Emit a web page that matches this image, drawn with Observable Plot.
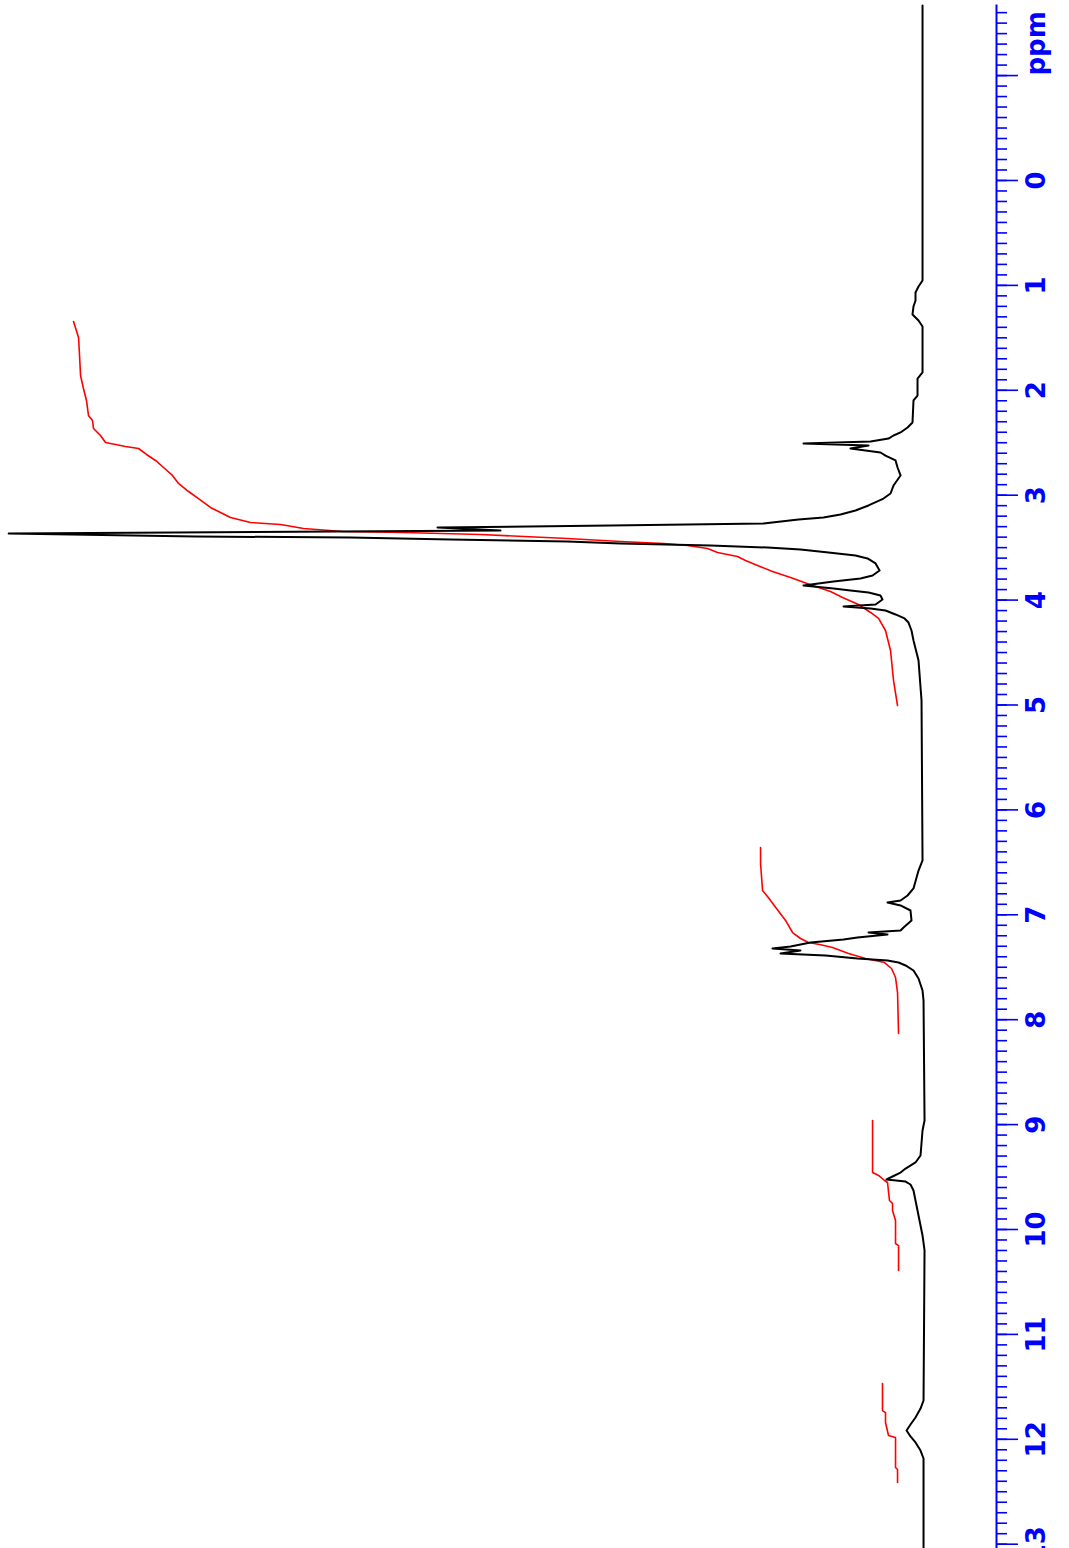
<!DOCTYPE html>
<html>
<head>
<meta charset="utf-8">
<script src="https://cdn.jsdelivr.net/npm/d3@7"></script>
<script src="https://cdn.jsdelivr.net/npm/@observablehq/plot@0.6"></script>
<style>
  html, body { margin: 0; padding: 0; background: #fff; overflow: hidden; }
</style>
</head>
<body>
<div id="chart"></div>
<script>
// 1H NMR spectrum, drawn sideways: chemical shift (ppm) runs down the right-hand axis,
// signal intensity grows to the left.

// Spectrum trace: [ppm, intensity]
const spectrum = [
  [-1.668, 0], [0.953, 0], [1.011, 0.44], [1.068, 0.77], [1.144, 0.77], [1.201, 0.99],
  [1.277, 1.10], [1.335, 0.44], [1.392, 0], [1.830, 0], [1.888, 0.55], [2.050, 0.55],
  [2.097, 0.99], [2.307, 1.10], [2.355, 1.64], [2.402, 2.41], [2.431, 3.18], [2.460, 3.73],
  [2.488, 5.70], [2.507, 13.05], [2.526, 5.92], [2.555, 7.90], [2.593, 4.61], [2.622, 4.06],
  [2.669, 2.96], [2.736, 2.74], [2.812, 2.41], [2.908, 3.18], [2.984, 3.51], [3.032, 4.28],
  [3.098, 5.92], [3.146, 7.35], [3.184, 8.99], [3.213, 10.86], [3.232, 13.60], [3.270, 17.43],
  [3.289, 34.21], [3.308, 53.18], [3.337, 46.27], [3.365, 100.2], [3.394, 79.72], [3.403, 62.72],
  [3.422, 51.75], [3.441, 38.93], [3.460, 33.11], [3.480, 23.25], [3.499, 17.00], [3.518, 13.38],
  [3.546, 10.31], [3.575, 7.35], [3.603, 6.03], [3.651, 5.15], [3.718, 4.71], [3.766, 5.48],
  [3.794, 6.80], [3.823, 9.76], [3.861, 13.05], [3.889, 9.76], [3.909, 7.90], [3.928, 5.92],
  [3.956, 4.61], [3.994, 4.39], [4.042, 5.15], [4.061, 8.66], [4.080, 5.70], [4.099, 4.06],
  [4.137, 2.96], [4.175, 1.97], [4.214, 1.54], [4.290, 1.21], [4.385, 0.99], [4.576, 0.44],
  [4.957, 0.11], [6.482, 0], [6.578, 0.44], [6.749, 0.99], [6.816, 1.64], [6.864, 2.41],
  [6.883, 3.84], [6.911, 2.41], [6.959, 1.32], [7.054, 1.21], [7.121, 2.08], [7.150, 2.41],
  [7.169, 5.92], [7.188, 3.84], [7.216, 7.13], [7.236, 8.66], [7.264, 12.28], [7.302, 14.47],
  [7.321, 16.45], [7.340, 13.38], [7.369, 15.57], [7.388, 10.64], [7.417, 7.13], [7.436, 3.84],
  [7.455, 2.63], [7.483, 1.86], [7.531, 0.99], [7.607, 0.44], [7.722, 0], [7.817, -0.11],
  [8.961, -0.22], [9.056, 0], [9.295, 0.22], [9.361, 0.77], [9.419, 1.86], [9.457, 2.41],
  [9.495, 3.29], [9.523, 3.95], [9.543, 1.86], [9.571, 1.32], [9.628, 0.99], [9.724, 0.77],
  [9.819, 0.55], [9.914, 0.33], [10.057, 0], [10.200, -0.22], [11.630, -0.11], [11.707, 0.22],
  [11.792, 0.77], [11.859, 1.32], [11.916, 1.75], [11.973, 1.32], [12.030, 0.77], [12.107, 0.22],
  [12.183, -0.11], [13.041, -0.11]
];

// Integral curves, one per integrated region: [ppm, integral]
const integralAliphatic = [
  [1.344, 93.09], [1.497, 92.54], [1.668, 92.43], [1.859, 92.32], [1.983, 92.00], [2.097, 91.67],
  [2.240, 91.45], [2.288, 91.01], [2.364, 90.90], [2.431, 90.13], [2.498, 89.58], [2.536, 87.39],
  [2.555, 85.96], [2.612, 85.09], [2.669, 84.10], [2.736, 83.22], [2.812, 82.24], [2.888, 81.58],
  [2.965, 80.48], [3.032, 79.39], [3.117, 78.07], [3.213, 75.88], [3.260, 73.68], [3.279, 70.39],
  [3.318, 67.87], [3.346, 63.60], [3.356, 57.02], [3.375, 48.46], [3.413, 38.93], [3.441, 33.11],
  [3.460, 28.40], [3.480, 25.77], [3.508, 23.57], [3.546, 22.48], [3.584, 20.29], [3.623, 19.41],
  [3.670, 18.09], [3.727, 16.45], [3.785, 14.47], [3.861, 12.06], [3.918, 10.09], [3.975, 8.77],
  [4.042, 7.02], [4.118, 5.70], [4.175, 4.82], [4.290, 4.06], [4.481, 3.51], [4.767, 3.18],
  [5.005, 2.74]
];
const integralAromatic = [
  [6.358, 17.76], [6.511, 17.76], [6.768, 17.54], [6.826, 17.00], [6.940, 16.01], [7.054, 15.02],
  [7.169, 14.25], [7.226, 13.38], [7.264, 12.50], [7.283, 11.29], [7.312, 9.87], [7.369, 8.11],
  [7.417, 6.25], [7.455, 4.17], [7.512, 3.40], [7.598, 2.96], [7.741, 2.74], [8.132, 2.63]
];
const integralAmide = [
  [8.961, 5.48], [9.457, 5.48], [9.485, 4.82], [9.533, 4.17], [9.552, 3.84], [9.724, 3.62],
  [9.752, 3.29], [9.819, 3.29], [9.914, 2.96], [10.134, 2.96], [10.153, 2.63], [10.391, 2.63]
];
const integralAcid = [
  [11.468, 4.39], [11.726, 4.39], [11.745, 4.06], [11.840, 4.06], [11.964, 3.73], [11.983, 2.96],
  [12.269, 2.96], [12.288, 2.74], [12.412, 2.74]
];

// Chemical shift axis
const majorTicks = [-1, 0, 1, 2, 3, 4, 5, 6, 7, 8, 9, 10, 11, 12, 13];
const tickLabels = ["ppm", "0", "1", "2", "3", "4", "5", "6", "7", "8", "9", "10", "11", "12", "13"];
const minorTicks = d3.range(-16, 131).map(i => i / 10);

const numberTicks = majorTicks.slice(1);
const numberLabels = tickLabels.slice(1);

const labelFont = {
  fill: "blue",
  fontSize: 26,
  fontWeight: "bold",
  fontFamily: "DejaVu Sans, sans-serif",
  rotate: -90,
  frameAnchor: "right",
  dx: 40
};

const integralLine = {x: d => d[1], y: d => d[0], stroke: "red", strokeWidth: 1.6};

const chart = Plot.plot({
  width: 1069,
  height: 1548,
  marginTop: 5,
  marginBottom: 0,
  marginLeft: 10,
  marginRight: 73,
  style: {background: "white", overflow: "visible"},
  x: {domain: [100, -8.11], axis: null},
  y: {domain: [-1.668, 13.041], reverse: true, axis: null},
  marks: [
    Plot.frame({anchor: "right", stroke: "blue", strokeWidth: 2}),
    Plot.axisY({anchor: "right", ticks: minorTicks, tickSize: 10, tickFormat: () => "", color: "blue", strokeWidth: 1.6, label: null}),
    Plot.axisY({anchor: "right", ticks: majorTicks, tickSize: 21, tickFormat: () => "", color: "blue", strokeWidth: 1.6, label: null}),
    Plot.text(numberTicks, {y: d => d, text: (d, i) => numberLabels[i], textAnchor: "middle", ...labelFont}),
    Plot.text([majorTicks[0]], {y: d => d, text: () => tickLabels[0], textAnchor: "start", ...labelFont}),
    Plot.line(integralAliphatic, integralLine),
    Plot.line(integralAromatic, integralLine),
    Plot.line(integralAmide, integralLine),
    Plot.line(integralAcid, integralLine),
    Plot.line(spectrum, {x: d => d[1], y: d => d[0], stroke: "black", strokeWidth: 2})
  ]
});

document.getElementById("chart").appendChild(chart);
</script>
</body>
</html>
